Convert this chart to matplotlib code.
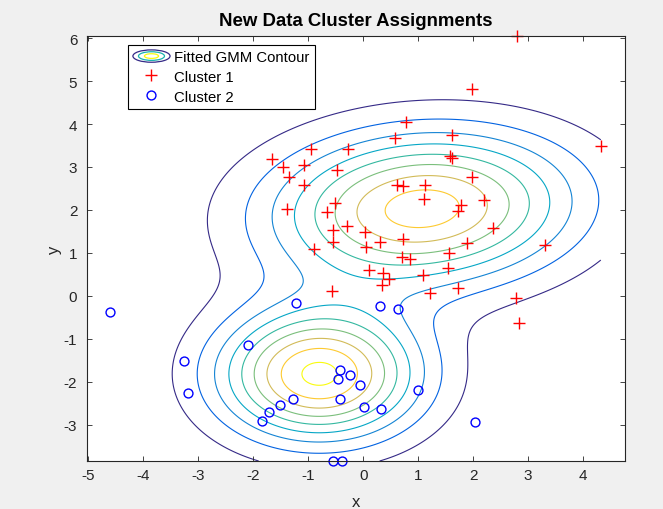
import numpy as np
import matplotlib
matplotlib.use("Agg")
import matplotlib.pyplot as plt
from matplotlib.colors import LinearSegmentedColormap
from matplotlib.patches import Ellipse
from matplotlib.legend_handler import HandlerBase
from matplotlib.lines import Line2D

# New observations assigned to cluster 1 (+)
c1_x = [2.79, 1.97, 0.77, 0.57, 1.61, 1.57, 1.61, 4.32, -0.95, -0.27,
        -1.65, -1.45, -1.08, -1.35, -0.47, -1.08, 0.61, 0.73, 1.13, 1.11,
        1.97, 2.19, 1.77, 1.72, -1.39, -0.51, -0.65, -0.30, -0.54, 0.03,
        0.30, 0.73, -0.54, 0.05, -0.90, 0.70, 0.85, 0.11, 0.36, 0.47,
        0.35, -0.56, 2.36, 1.88, 1.56, 1.55, 1.09, 1.72, 1.22, 3.30,
        2.78, 2.83]
c1_y = [6.05, 4.81, 4.05, 3.68, 3.74, 3.26, 3.20, 3.48, 3.42, 3.42,
        3.18, 2.99, 3.04, 2.76, 2.92, 2.58, 2.59, 2.55, 2.58, 2.26,
        2.77, 2.24, 2.11, 1.97, 2.03, 2.15, 1.95, 1.62, 1.54, 1.48,
        1.26, 1.31, 1.25, 1.13, 1.08, 0.90, 0.86, 0.61, 0.53, 0.39,
        0.25, 0.12, 1.58, 1.23, 1.00, 0.65, 0.48, 0.18, 0.06, 1.17,
        -0.06, -0.63]

# New observations assigned to cluster 2 (o)
c2_x = [-4.60, -1.22, 0.30, 0.64, -2.09, -3.26, -3.18, -1.84, -1.71, -1.51,
        -1.28, -0.42, -0.23, -0.45, -0.05, -0.42, 1.00, 0.02, 0.32, 2.03,
        -0.54, -0.39]
c2_y = [-0.38, -0.17, -0.24, -0.32, -1.14, -1.52, -2.26, -2.91, -2.70, -2.55,
        -2.40, -1.72, -1.84, -1.95, -2.07, -2.40, -2.20, -2.59, -2.65, -2.94,
        -3.85, -3.85]

# Fitted two-component Gaussian mixture
gmm_weights = [0.615, 0.385]
gmm_means = [[1.075, 2.03], [-0.80, -1.835]]
gmm_covs = [[[3.55, 0.22], [0.22, 1.50]],
            [[1.60, 0.00], [0.00, 1.10]]]
pdf_levels = [0.005, 0.010, 0.015, 0.020, 0.025, 0.030, 0.035, 0.040, 0.045]

x_ticks = [-5, -4, -3, -2, -1, 0, 1, 2, 3, 4]
y_ticks = [-3, -2, -1, 0, 1, 2, 3, 4, 5, 6]

# parula-like colormap
_parula = [
    (0.2081, 0.1663, 0.5292), (0.1707, 0.2919, 0.7792), (0.0117, 0.3875, 0.8820),
    (0.0629, 0.4737, 0.8554), (0.0793, 0.5200, 0.8312), (0.0265, 0.6137, 0.8135),
    (0.0228, 0.6535, 0.7768), (0.0843, 0.6928, 0.7062), (0.1990, 0.7214, 0.6309),
    (0.3482, 0.7424, 0.5473), (0.4871, 0.7491, 0.4840), (0.6473, 0.7456, 0.4188),
    (0.8185, 0.7327, 0.3498), (0.9450, 0.7261, 0.2886), (0.9955, 0.7861, 0.1967),
    (0.9626, 0.8705, 0.1309), (0.9763, 0.9831, 0.0538)]
parula = LinearSegmentedColormap.from_list("parula", _parula)


def mixture_pdf(X, Y):
    Z = np.zeros_like(X)
    for w, m, S in zip(gmm_weights, gmm_means, gmm_covs):
        S = np.asarray(S)
        inv = np.linalg.inv(S)
        det = np.linalg.det(S)
        dx = X - m[0]
        dy = Y - m[1]
        q = inv[0, 0] * dx * dx + 2 * inv[0, 1] * dx * dy + inv[1, 1] * dy * dy
        Z += w * np.exp(-0.5 * q) / (2 * np.pi * np.sqrt(det))
    return Z


class ContourIcon:
    pass


class ContourIconHandler(HandlerBase):
    def create_artists(self, legend, orig_handle, xdescent, ydescent,
                       width, height, fontsize, trans):
        cx = 0.5 * width - xdescent
        cy = 0.5 * height - ydescent
        arts = []
        for s, col in [(1.0, parula(0.0)), (0.7, parula(0.45)), (0.38, parula(1.0))]:
            e = Ellipse((cx, cy), width * s, height * s, fill=False,
                        edgecolor=col, lw=0.9, transform=trans)
            arts.append(e)
        return arts


plt.rcParams["font.family"] = ["Liberation Sans", "DejaVu Sans"]
plt.rcParams["axes.unicode_minus"] = False

W, H = 663, 510
fig = plt.figure(figsize=(W / 100, H / 100), dpi=100, facecolor="#f0f0f0")
ax = fig.add_axes([87 / W, 1 - 462 / H, (625 - 87) / W, (462 - 37) / H])
ax.set_facecolor("white")

# density contours over the range spanned by the observations
all_x = np.concatenate([c1_x, c2_x])
all_y = np.concatenate([c1_y, c2_y])
gx = np.linspace(all_x.min(), all_x.max(), 400)
gy = np.linspace(all_y.min(), all_y.max(), 400)
GX, GY = np.meshgrid(gx, gy)
GZ = mixture_pdf(GX, GY)
ax.contour(GX, GY, GZ, levels=pdf_levels, cmap=parula,
           vmin=pdf_levels[0], vmax=pdf_levels[-1], linewidths=0.8, zorder=1)

ax.plot(c1_x, c1_y, ls="none", marker="+", color="red", ms=8.8, mew=1.0,
        clip_on=False, zorder=2)
ax.plot(c2_x, c2_y, ls="none", marker="o", mfc="none", mec="blue", ms=6.4,
        mew=1.0, clip_on=False, zorder=2)

ax.set_xlim(-5.02, 4.76)
ax.set_ylim(all_y.min(), all_y.max())
ax.set_xticks(x_ticks)
ax.set_yticks(y_ticks)

axis_col = "#262626"
for sp in ax.spines.values():
    sp.set_color(axis_col)
    sp.set_linewidth(0.8)
    sp.set_zorder(3)
ax.tick_params(direction="in", length=3.8, width=0.6, top=True, right=True,
               labelsize=11, colors=axis_col)
ax.tick_params(axis="x", pad=5)
ax.tick_params(axis="y", pad=7)

ax.set_title("New Data Cluster Assignments", fontsize=13.4, fontweight="bold",
             color="black", pad=8)
ax.set_xlabel("x", fontsize=12, color=axis_col)
ax.set_ylabel("y", fontsize=12, color=axis_col)
ax.xaxis.set_label_coords(0.5, -0.077)
ax.yaxis.set_label_coords(-0.046, 0.5)

handles = [ContourIcon(),
           Line2D([], [], ls="none", marker="+", color="red", ms=8.8, mew=1.0),
           Line2D([], [], ls="none", marker="o", mfc="none", mec="blue", ms=6.4, mew=1.0)]
labels = ["Fitted GMM Contour", "Cluster 1", "Cluster 2"]
leg = ax.legend(handles, labels, handler_map={ContourIcon: ContourIconHandler()},
                loc="upper left", bbox_to_anchor=(127.7 / W, 1 - 45.7 / H),
                bbox_transform=fig.transFigure, borderaxespad=0, fontsize=10.7,
                handlelength=2.5, handleheight=0.9, handletextpad=0.27,
                labelspacing=0.37, borderpad=0.35, fancybox=False, framealpha=1,
                edgecolor="black")
leg.get_frame().set_linewidth(0.8)
leg.set_zorder(5)

fig.savefig("out.png", dpi=100, facecolor=fig.get_facecolor())
